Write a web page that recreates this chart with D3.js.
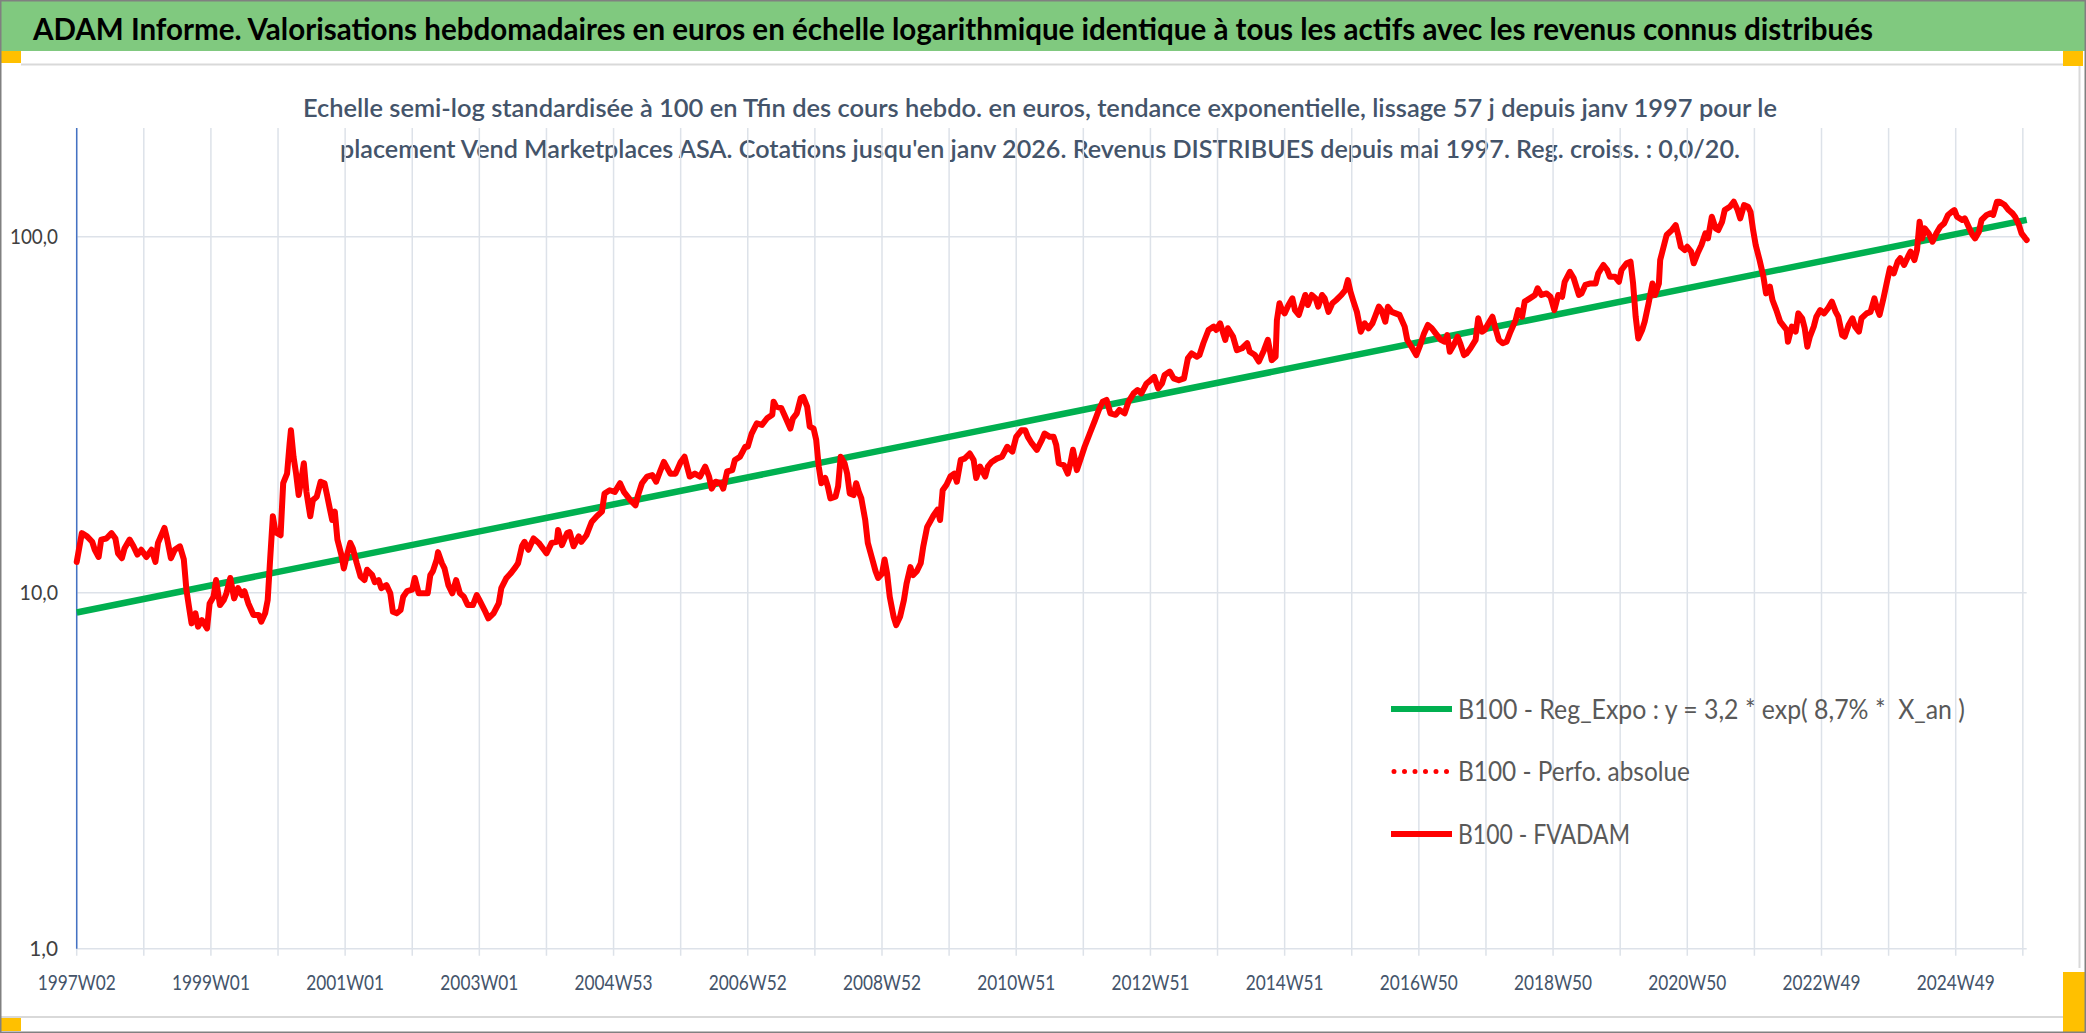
<!DOCTYPE html>
<html>
<head>
<meta charset="utf-8">
<script src="https://cdn.jsdelivr.net/npm/d3@7"></script>
<style>
  html, body { margin: 0; padding: 0; background: #fff; }
  svg { display: block; font-family: Lato, "Open Sans", sans-serif; }
  text { white-space: pre; }
</style>
</head>
<body>
<svg id="chart" width="2086" height="1033"></svg>
<script>
// weekly quotes, first and last week (ISO weeks)
const firstWeek = "1997-01-06";
const lastWeek = "2025-12-22";

const titleText = "ADAM Informe. Valorisations hebdomadaires en euros en échelle logarithmique identique à tous les actifs avec les revenus connus distribués";
const subtitleLines = [
  "Echelle semi-log standardisée à 100 en Tfin des cours hebdo. en euros, tendance exponentielle, lissage 57 j depuis janv 1997 pour le",
  "placement Vend Marketplaces ASA. Cotations jusqu'en janv 2026. Revenus DISTRIBUES depuis mai 1997. Reg. croiss. : 0,0/20."
];
const legendNames = [
  "B100 - Reg_Expo : y = 3,2 * exp( 8,7% *  X_an )",
  "B100 - Perfo. absolue",
  "B100 - FVADAM"
];
const yTicks = [1, 10, 100];
const yMax = 202;

// exponential trend (straight on the log axis), week number -> value
const regWeek = [0, 1511];
const regValue = [8.8, 111.5];

// FVADAM, week number (0 = 1997W02) -> value
const fvWeek = [0,4,8,12,14,17,19,23,27,30,32,35,37,41,44,47,50,54,58,61,63,68,70,73,76,80,83,85,87,89,92,94,97,101,103,106,108,111,114,116,119,122,125,128,130,133,137,141,143,146,148,150,152,154,158,160,163,165,166,168,170,172,174,176,178,179,181,183,186,189,192,194,196,198,200,202,205,207,209,212,214,217,220,223,225,229,231,234,236,240,243,245,248,251,253,256,260,262,265,269,272,274,276,279,280,283,285,288,291,294,297,300,303,307,310,312,
  316,319,323,327,329,333,336,340,342,345,347,350,354,358,362,364,368,372,373,376,380,382,385,389,391,395,399,403,407,409,413,417,421,424,426,429,433,435,438,442,446,449,452,455,457,460,464,468,471,473,475,479,483,487,490,492,495,499,501,504,508,510,514,518,520,523,527,531,535,539,540,542,546,549,553,555,558,561,563,566,568,571,573,575,577,580,582,584,588,590,592,595,597,599,602,604,606,608,611,613,616,619,621,
  624,626,628,630,633,635,638,641,643,646,648,651,654,656,659,662,664,667,669,671,674,677,680,682,685,688,692,695,697,700,704,706,709,713,717,721,725,728,732,735,737,740,744,748,750,754,757,759,761,765,768,770,772,775,778,781,785,789,792,795,798,801,805,808,812,815,819,822,825,829,832,835,838,841,843,847,850,854,858,861,864,868,870,873,877,881,883,886,890,892,896,899,903,907,909,913,916,920,923,926,929,930,932,
  934,936,939,942,944,947,949,952,954,957,960,962,965,967,970,973,976,980,983,985,987,989,992,995,998,1001,1004,1006,1009,1011,1014,1016,1019,1022,1025,1029,1031,1035,1038,1041,1044,1047,1050,1053,1057,1060,1062,1064,1067,1070,1072,1075,1077,1080,1084,1086,1089,1091,1094,1097,1099,1102,1105,1108,1111,1115,1117,1120,1122,1126,1130,1132,1135,1139,1142,1145,1148,1151,1153,1157,1160,1164,1166,1169,1173,1177,1179,1183,1186,1188,1192,1195,1197,1201,1204,1206,1208,1210,1213,1215,1218,1221,1223,1226,1227,1230,1232,1236,1239,1241,
  1243,1246,1248,1251,1253,1256,1259,1262,1264,1267,1270,1272,1275,1277,1281,1284,1287,1289,1292,1295,1297,1299,1301,1302,1304,1307,1309,1312,1314,1317,1320,1323,1325,1326,1329,1332,1334,1337,1339,1341,1343,1346,1348,1351,1354,1357,1360,1363,1365,1368,1370,1373,1376,1378,1381,1383,1387,1390,1393,1395,1397,1400,1403,1405,1408,1411,1413,1416,1419,1421,1424,1426,1428,1430,1432,1435,1438,1441,1444,1447,1450,1453,1455,1457,1461,1463,1466,1469,1471,1474,1476,1480,1483,1485,1488,1490,1494,1497,1500,1502,1505,1507,1510,1511];
const fvValue = [12.2,14.7,14.4,13.9,13.2,12.6,14.1,14.2,14.7,14.2,12.9,12.5,13.3,14.1,13.5,12.8,13.2,12.6,13.2,12.2,13.8,15.2,14.2,12.5,13.2,13.5,12.4,10.2,9.13,8.2,8.75,8.03,8.38,7.94,9.33,9.74,10.85,9.23,9.54,9.96,11.0,9.64,10.3,9.85,10.1,9.33,8.66,8.66,8.29,8.75,9.54,12.6,16.4,14.8,14.5,20.3,21.6,26.3,28.6,24.1,21.6,18.8,20.7,23.1,19.2,18.2,16.4,18.2,18.6,20.5,20.3,18.8,17.3,16.0,16.9,14.1,12.8,11.7,12.6,13.8,13.3,12.1,11.1,10.85,11.6,11.2,10.7,10.85,10.3,10.5,9.96,8.84,8.75,8.94,9.74,10.1,10.2,11.0,9.96,9.96,9.96,11.2,11.5,12.4,13.0,12.1,11.7,10.5,9.96,10.85,9.96,9.74,9.23,9.23,9.85,9.54,
  8.94,8.47,8.75,9.33,10.3,11.0,11.3,11.8,12.1,13.5,13.9,13.2,14.2,13.8,13.2,12.9,13.8,13.9,15.0,13.6,14.7,14.8,13.5,14.4,13.9,14.5,15.8,16.4,16.9,19.0,19.4,19.2,20.3,19.2,18.8,18.2,17.6,18.8,20.3,21.2,21.4,20.5,21.9,23.3,22.6,21.6,21.6,23.3,24.1,22.6,21.2,21.6,21.2,22.6,21.2,19.6,20.5,20.3,19.6,21.9,22.1,23.6,24.1,25.7,25.7,28.0,29.9,29.6,30.9,31.6,34.4,33.3,33.0,31.2,28.9,30.9,31.9,35.2,35.5,33.3,29.3,28.9,26.9,22.6,20.3,21.0,19.9,18.4,18.6,19.9,24.1,23.1,21.6,19.0,18.8,20.3,19.2,18.4,16.0,13.8,12.6,11.5,11.0,
  11.3,12.4,11.3,9.74,8.56,8.11,8.56,9.54,10.6,11.8,11.2,11.5,12.1,13.5,15.3,16.0,16.5,17.1,16.0,19.4,20.1,21.2,21.6,20.5,23.6,23.8,24.6,23.6,21.0,22.6,21.2,22.6,23.3,23.8,24.1,25.7,24.9,27.4,28.6,28.6,27.4,26.3,25.2,26.9,28.0,27.4,27.4,26.0,23.1,22.8,21.6,23.1,25.2,22.1,23.8,25.7,28.0,30.5,32.6,34.4,34.8,31.9,31.6,32.6,31.9,34.4,36.3,37.1,36.3,38.7,39.5,40.4,37.5,38.7,40.9,41.8,40.0,39.5,40.0,45.5,47.0,46.0,46.5,50.2,54.7,55.9,54.7,57.1,51.3,55.3,52.4,48.0,48.6,50.2,47.5,46.5,44.6,48.0,51.3,45.0,46.0,58.3,65.0,
  62.2,60.9,64.3,67.1,62.2,60.3,63.6,68.6,64.3,68.6,67.1,63.6,68.6,67.1,61.5,65.0,66.4,68.6,70.8,75.5,70.1,66.4,61.5,54.1,57.1,55.3,57.1,59.6,63.6,62.2,57.7,63.6,61.5,60.9,60.3,55.9,51.3,48.6,46.5,49.6,53.5,56.5,55.3,53.5,51.3,50.7,52.9,47.5,49.6,52.4,50.2,46.5,47.0,48.6,51.3,59.0,54.1,54.7,57.1,59.6,55.9,51.3,50.2,50.7,54.1,58.3,62.2,59.6,65.7,67.1,68.6,71.6,68.6,69.3,67.8,62.2,68.6,67.8,74.7,79.7,76.4,68.6,69.3,73.2,73.9,73.9,78.9,83.3,80.6,77.2,77.2,74.7,80.6,84.2,85.1,73.9,59.6,51.8,54.7,57.7,65.0,73.9,68.6,73.9,86.0,94.8,101.1,104.4,107.8,101.1,
  93.7,91.7,93.7,90.8,84.2,89.8,94.8,102.2,98.9,113.8,105.5,104.4,110.2,118.8,121.4,125.4,118.8,112.6,122.7,121.4,117.5,104.4,94.8,91.7,86.0,77.2,69.3,72.4,66.4,62.2,57.7,55.9,54.7,50.7,55.9,54.1,60.9,59.0,55.3,49.1,52.4,55.9,59.6,62.2,60.9,62.9,65.7,61.5,59.6,52.9,52.4,56.5,59.0,55.9,54.1,59.0,60.9,61.5,67.1,62.9,60.3,67.1,75.5,81.5,78.9,85.1,87.0,83.3,87.9,90.8,86.0,91.7,110.2,98.9,105.5,102.2,96.8,102.2,106.7,109.0,115.1,117.5,118.8,113.8,111.4,112.6,106.7,101.1,98.9,103.3,111.4,115.1,116.3,115.1,125.4,125.4,122.7,118.8,116.3,113.8,107.8,102.2,98.9,97.9];

const width = 2086, height = 1033;
const plot = {left: 76.7, right: 2026.7, top: 128, bottom: 948.7};
const gridColor = "#dde2e9";

const svg = d3.select("#chart");
const fmtWeek = d3.utcFormat("%GW%V");
const parseDay = d3.utcParse("%Y-%m-%d");
const weeks = d3.utcMonday.range(parseDay(firstWeek), d3.utcMonday.offset(parseDay(lastWeek), 1)).map(fmtWeek);
const fr = d3.formatLocale({decimal: ",", thousands: " ", grouping: [3], currency: ["", " €"]});
const fmtY = fr.format(".1f");

const x = d3.scalePoint().domain(weeks).range([plot.left, plot.right]);
const y = d3.scaleLog().domain([1, yMax]).range([plot.bottom, plot.top]);

// frame, header band, corner marks
svg.append("rect").attr("width", width).attr("height", height).attr("fill", "#fff");
svg.append("rect").attr("x", 0).attr("y", 0).attr("width", width).attr("height", 51).attr("fill", "#80c97f");
svg.append("path")
  .attr("d", `M21,64.5H2079.5V968 M0,1017H2063`)
  .attr("fill", "none").attr("stroke", "#d9d9d9").attr("stroke-width", 2);
const corners = [[0, 51, 21, 12], [2063, 51, 20, 15], [0, 1018, 21, 13], [2063, 972, 23, 61]];
svg.selectAll(".corner").data(corners).enter().append("rect")
  .attr("class", "corner")
  .attr("x", d => d[0]).attr("y", d => d[1]).attr("width", d => d[2]).attr("height", d => d[3])
  .attr("fill", "#ffc000");
svg.append("rect").attr("x", 0.75).attr("y", 0.75).attr("width", width - 1.5).attr("height", height - 1.5)
  .attr("fill", "none").attr("stroke", "#808080").attr("stroke-width", 1.5);

svg.append("text")
  .attr("x", 33).attr("y", 40)
  .attr("font-size", 31).attr("font-weight", 700).attr("fill", "#000")
  .attr("textLength", 1840).attr("lengthAdjust", "spacingAndGlyphs")
  .text(titleText);

const subWidths = [1474, 1400];
svg.selectAll(".subtitle").data(subtitleLines).enter().append("text")
  .attr("class", "subtitle")
  .attr("x", 1040).attr("y", (d, i) => 117 + i * 41)
  .attr("text-anchor", "middle")
  .attr("font-size", 25).attr("font-weight", 600).attr("fill", "#44546a")
  .attr("textLength", (d, i) => subWidths[i]).attr("lengthAdjust", "spacingAndGlyphs")
  .text(d => d);

// grid
const g = svg.append("g");
const tickWeeks = weeks.filter((d, i) => i % 52 === 0);
const labelWeeks = weeks.filter((d, i) => i % 104 === 0);

g.selectAll(".vgrid").data(tickWeeks).enter().append("line")
  .attr("x1", d => x(d)).attr("x2", d => x(d))
  .attr("y1", plot.top).attr("y2", plot.bottom + 7)
  .attr("stroke", gridColor).attr("stroke-width", 1.5);
g.selectAll(".hgrid").data(yTicks).enter().append("line")
  .attr("x1", plot.left).attr("x2", plot.right)
  .attr("y1", d => y(d)).attr("y2", d => y(d))
  .attr("stroke", gridColor).attr("stroke-width", 1.5);

g.append("line")
  .attr("x1", plot.left).attr("x2", plot.left)
  .attr("y1", plot.top).attr("y2", plot.bottom)
  .attr("stroke", "#4472c4").attr("stroke-width", 1.5);

g.selectAll(".ylab").data(yTicks).enter().append("text")
  .attr("x", 58).attr("y", d => y(d)).attr("dy", "0.36em")
  .attr("text-anchor", "end")
  .attr("font-size", 21).attr("fill", "#404040")
  .attr("textLength", d => fmtY(d).length * 9.6).attr("lengthAdjust", "spacingAndGlyphs")
  .text(d => fmtY(d));

g.selectAll(".xlab").data(labelWeeks).enter().append("text")
  .attr("x", d => x(d)).attr("y", 990)
  .attr("text-anchor", "middle")
  .attr("font-size", 21).attr("fill", "#44546a")
  .attr("textLength", 78).attr("lengthAdjust", "spacingAndGlyphs")
  .text(d => d);

// series
const line = d3.line().x(d => x(weeks[d[0]])).y(d => y(d[1]));

g.append("path")
  .datum(d3.zip(regWeek, regValue))
  .attr("d", line)
  .attr("fill", "none").attr("stroke", "#00b050").attr("stroke-width", 6.5);

g.append("path")
  .datum(d3.zip(fvWeek, fvValue))
  .attr("d", line)
  .attr("fill", "none").attr("stroke", "#ff0000").attr("stroke-width", 6)
  .attr("stroke-linejoin", "round").attr("stroke-linecap", "round");

// legend
const legendStyles = [
  {stroke: "#00b050", dash: null},
  {stroke: "#ff0000", dash: "0 10.5"},
  {stroke: "#ff0000", dash: null}
];
const legendWidths = [507, 232, 172];
const leg = svg.append("g").selectAll("g").data(legendNames).enter().append("g")
  .attr("transform", (d, i) => `translate(0,${709 + i * 62.5})`);
leg.append("line")
  .attr("x1", (d, i) => legendStyles[i].dash ? 1394 : 1391).attr("x2", 1452)
  .attr("stroke", (d, i) => legendStyles[i].stroke)
  .attr("stroke-width", (d, i) => legendStyles[i].dash ? 5 : 6)
  .attr("stroke-linecap", (d, i) => legendStyles[i].dash ? "round" : "butt")
  .attr("stroke-dasharray", (d, i) => legendStyles[i].dash);
leg.append("text")
  .attr("x", 1458).attr("y", 9.5)
  .attr("font-size", 26).attr("fill", "#595959")
  .attr("textLength", (d, i) => legendWidths[i]).attr("lengthAdjust", "spacingAndGlyphs")
  .text(d => d);
</script>
</body>
</html>
